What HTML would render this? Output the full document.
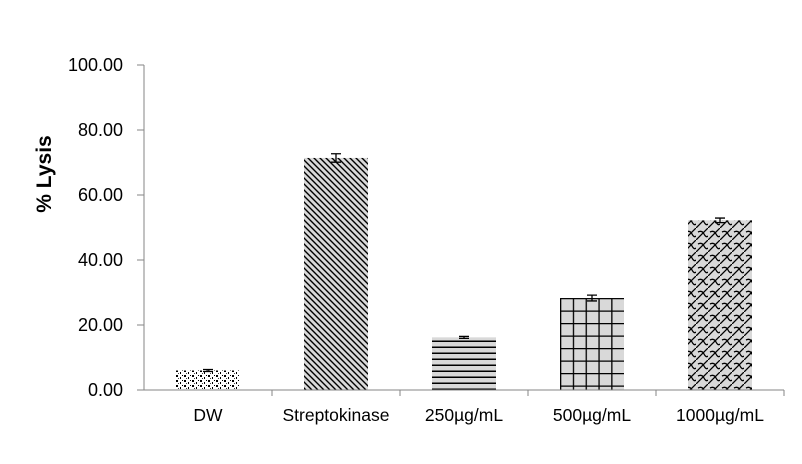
<!DOCTYPE html>
<html><head><meta charset="utf-8"><style>
html,body{margin:0;padding:0;background:#fff}
svg text{font-family:"Liberation Sans",Calibri,sans-serif}
</style></head><body>
<svg id="chart" width="802" height="459" xmlns="http://www.w3.org/2000/svg">
<defs>
<pattern id="p0" width="8" height="5" patternUnits="userSpaceOnUse"><rect width="8" height="5" fill="#fff"/><rect x="0" y="0" width="2" height="2" fill="#000"/><rect x="4" y="2" width="1" height="2" fill="#000"/><rect x="6" y="0" width="1" height="1" fill="#000"/><rect x="2" y="3" width="1" height="1" fill="#444"/></pattern>
<pattern id="p1" width="6" height="6" patternUnits="userSpaceOnUse"><rect width="6" height="6" fill="#d9d9d9"/><path d="M-1,-1 L7,7 M-1,5 L1,7 M5,-1 L7,1" stroke="#000" stroke-width="1.4"/></pattern>
<pattern id="p2" width="8" height="6" patternUnits="userSpaceOnUse"><rect width="8" height="6" fill="#d9d9d9"/><rect y="4.5" width="8" height="1.5" fill="#000"/></pattern>
<pattern id="p3" width="12.8" height="12.5" patternUnits="userSpaceOnUse" x="560" y="298"><rect width="12.8" height="12.5" fill="#d9d9d9"/><path d="M0,0 V12.5 M0,0 H12.8" stroke="#000" stroke-width="2.6"/></pattern>
<pattern id="p4" width="12" height="12" patternUnits="userSpaceOnUse"><rect width="12" height="12" fill="#d9d9d9"/><path d="M0,12 L12,0 M2,4 Q6,2 8,6 M8,6 Q10,10 12,8" stroke="#000" stroke-width="1.3" fill="none"/></pattern>
</defs>
<g id="plot"></g>
<text x="0" y="0" transform="translate(51,174) rotate(-90)" text-anchor="middle" font-size="21" font-weight="bold">% Lysis</text>
</svg>
<script>
const categories=["DW","Streptokinase","250µg/mL","500µg/mL","1000µg/mL"];
const values=[6.0,71.4,16.2,28.3,52.2];
const errors=[0.3,1.3,0.3,0.9,0.7];
const yTicks=[0,20,40,60,80,100];
const tickLabels=["0.00","20.00","40.00","60.00","80.00","100.00"];
const NS="http://www.w3.org/2000/svg";
const g=document.getElementById('plot');
const x0=144,cw=128,y0=390,y100=65;
const y=v=>y0-(v/100)*(y0-y100);
const xc=i=>x0+cw*i+cw/2;
function mk(t,a){const e=document.createElementNS(NS,t);for(const k in a)e.setAttribute(k,a[k]);g.appendChild(e);return e;}
yTicks.forEach((t,i)=>{
  const tk=mk('line',{x1:137,x2:144,y1:y(t),y2:y(t),stroke:'#868686'});
  
  
  const l=mk('text',{x:123,y:y(t)+6,'text-anchor':'end','font-size':18,fill:'#000'});
  l.textContent=tickLabels[i];
  
  
});
categories.forEach((c,i)=>{
  const b=mk('rect',{x:xc(i)-32,y:y(values[i]),width:64,height:y0-y(values[i]),fill:'url(#p'+i+')'});
  
  
  const top=y(values[i]+errors[i]),bot=y(values[i]-errors[i]);
  const e=mk('path',{d:`M${xc(i)},${top}V${bot}M${xc(i)-5},${top}H${xc(i)+5}M${xc(i)-5},${bot}H${xc(i)+5}`,stroke:'#000','stroke-width':1.3,fill:'none'});
  
  
  const l=mk('text',{x:xc(i),y:421,'text-anchor':'middle','font-size':17.5,fill:'#000'});
  l.textContent=c;
  
  
  const t=mk('line',{x1:x0+cw*(i+1),x2:x0+cw*(i+1),y1:y0,y2:y0+6,stroke:'#868686'});
  
  
});
const ya=mk('line',{x1:x0,x2:x0,y1:y100,y2:y0,stroke:'#868686'});


const xa=mk('line',{x1:x0,x2:x0+cw*5,y1:y0,y2:y0,stroke:'#868686'});


</script>
</body></html>
